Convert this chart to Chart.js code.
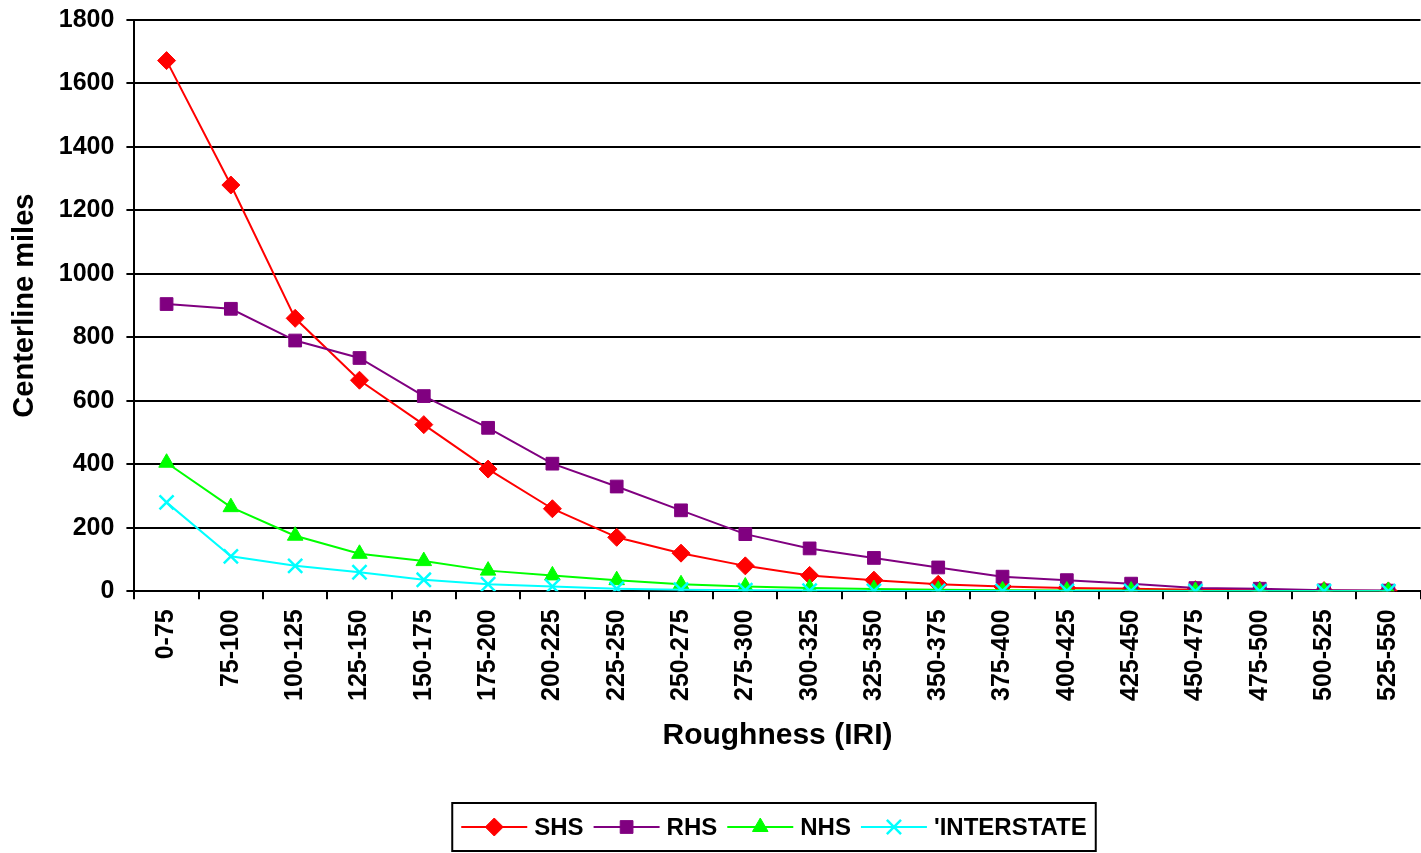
<!DOCTYPE html>
<html lang="en">
<head>
    <meta charset="UTF-8">
    <title>Roughness (IRI)</title>
    <script src="https://cdn.jsdelivr.net/npm/chart.js"></script>
    <style>
        html, body { margin: 0; padding: 0; background: #fff; overflow: hidden; }
        /* canvas um pouco maior que a janela para o grafico encostar na borda direita */
        #box { width: 1433px; height: 860px; margin-top: -7px; }
    </style>
</head>
<body>
    <div id="box">
        <canvas id="grafico"></canvas>
    </div>

<script>
    // categorias do eixo x
    const faixas = ['0-75', '75-100', '100-125', '125-150', '150-175', '175-200', '200-225',
        '225-250', '250-275', '275-300', '300-325', '325-350', '350-375', '375-400',
        '400-425', '425-450', '450-475', '475-500', '500-525', '525-550'];

    // valores (centerline miles)
    const shs = [1672, 1280, 860, 665, 525, 385, 260, 170, 120, 80, 50, 35, 22, 15, 10, 8, 5, 3, 2, 1];
    const rhs = [905, 890, 790, 735, 615, 515, 402, 330, 255, 180, 135, 105, 75, 46, 35, 24, 10, 8, 3, 2];
    const nhs = [405, 265, 175, 118, 95, 65, 50, 35, 22, 15, 10, 7, 5, 3, 2, 2, 1, 1, 1, 1];
    const interstate = [280, 110, 80, 60, 36, 22, 15, 8, 5, 3, 2, 1, 1, 1, 1, 1, 0, 0, 0, 0];

    const yTicks = [0, 200, 400, 600, 800, 1000, 1200, 1400, 1600, 1800];

    const fonte = 'Arial, "Liberation Sans", sans-serif';

    function serie(nome, dados, cor, estilo, raio, ordem) {
        return {
            label: nome,
            data: dados,
            borderColor: cor,
            backgroundColor: cor,
            borderWidth: 2,
            pointStyle: estilo,
            pointRadius: raio,
            pointHoverRadius: raio,
            pointBorderWidth: estilo === 'crossRot' ? 2.5 : 1,
            tension: 0,
            order: ordem
        };
    }

    // legenda desenhada a mao, com linha + marcador e caixa em volta
    const legendaCaixa = {
        id: 'legendaCaixa',
        afterDraw(chart) {
            const ctx = chart.ctx;
            ctx.save();
            ctx.font = 'bold 24px ' + fonte;
            const linha = 66, gapTxt = 7, gapItem = 10, pad = 9;
            const itens = chart.data.datasets.map(ds => ({ ds, w: ctx.measureText(ds.label).width }));
            let total = pad * 2;
            itens.forEach((it, i) => { total += linha + gapTxt + it.w + (i < itens.length - 1 ? gapItem : 0); });
            const cx = 774;
            const x0 = cx - total / 2;
            const top = 810, alt = 48;
            ctx.strokeStyle = '#000';
            ctx.lineWidth = 2;
            ctx.strokeRect(x0, top, total, alt);
            const yMeio = top + alt / 2;
            let x = x0 + pad;
            itens.forEach(it => {
                const ds = it.ds;
                ctx.strokeStyle = ds.borderColor;
                ctx.lineWidth = 2;
                ctx.beginPath();
                ctx.moveTo(x, yMeio);
                ctx.lineTo(x + linha, yMeio);
                ctx.stroke();
                ctx.fillStyle = ds.backgroundColor;
                ctx.lineWidth = ds.pointBorderWidth;
                Chart.helpers.drawPoint(ctx, { pointStyle: ds.pointStyle, radius: ds.pointRadius, borderWidth: ds.pointBorderWidth },
                    x + linha / 2, yMeio);
                ctx.fillStyle = '#000';
                ctx.textBaseline = 'middle';
                ctx.textAlign = 'left';
                ctx.fillText(ds.label, x + linha + gapTxt, yMeio + 1);
                x += linha + gapTxt + it.w + gapItem;
            });
            ctx.restore();
        }
    };

    const config = {
        type: 'line',
        data: {
            labels: faixas,
            datasets: [
                serie('SHS', shs, '#FF0000', 'rectRot', 9, 3),
                serie('RHS', rhs, '#800080', 'rect', 9, 2),
                serie('NHS', nhs, '#00FF00', 'triangle', 9, 1),
                serie("'INTERSTATE", interstate, '#00FFFF', 'crossRot', 10, 0)
            ]
        },
        options: {
            responsive: true,
            maintainAspectRatio: false,
            animation: false,
            layout: { padding: { top: 0, right: 0, bottom: 99, left: 8 } },
            plugins: {
                legend: { display: false },
                tooltip: { enabled: false }
            },
            scales: {
                x: {
                    offset: true,
                    grid: { display: true, drawOnChartArea: false, offset: true, color: '#000', lineWidth: 2, tickLength: 8 },
                    border: { display: true, color: '#000', width: 2 },
                    ticks: {
                        autoSkip: false, maxRotation: 90, minRotation: 90, color: '#000', padding: 10,
                        font: { family: fonte, size: 25, weight: 'bold' }
                    },
                    title: {
                        display: true, text: 'Roughness (IRI)', color: '#000',
                        font: { family: fonte, size: 30, weight: 'bold' }, padding: { top: 7, bottom: 0 }
                    }
                },
                y: {
                    min: 0,
                    max: 1800,
                    afterBuildTicks(axis) { axis.ticks = yTicks.map(v => ({ value: v })); },
                    grid: { color: '#000', lineWidth: 2, tickLength: 8 },
                    border: { display: true, color: '#000', width: 2 },
                    ticks: {
                        color: '#000', padding: 12,
                        font: { family: fonte, size: 25, weight: 'bold' },
                        callback: v => String(v)
                    },
                    title: {
                        display: true, text: 'Centerline miles', color: '#000',
                        font: { family: fonte, size: 29, weight: 'bold' }, padding: { top: 0, bottom: 4 }
                    }
                }
            }
        },
        plugins: [legendaCaixa]
    };

    new Chart(document.getElementById('grafico'), config);
</script>
</body>
</html>
